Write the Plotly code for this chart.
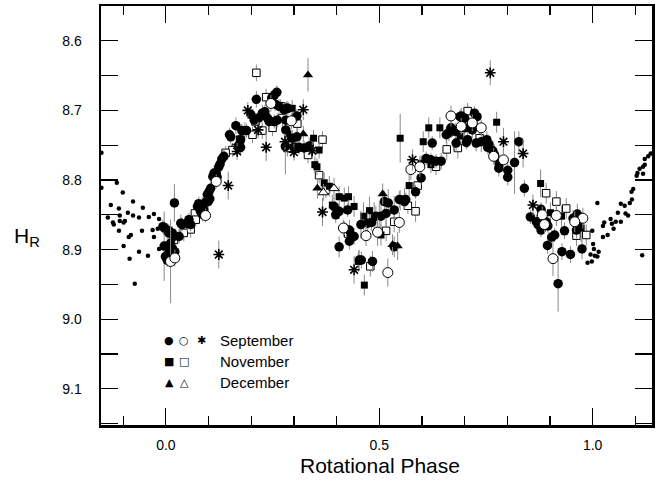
import plotly.graph_objects as go

# ---------------- data ----------------
# Small dots (phase-wrapped points outside 0..1)
dots_phase = [-0.151, -0.151, -0.115, -0.101, -0.077, -0.129, -0.136, -0.110, -0.089, -0.054,
              -0.108, -0.077, -0.063, -0.040, -0.028, -0.016, -0.124, -0.122, -0.108, -0.099,
              -0.096, -0.110, -0.056, -0.031, -0.028, -0.087, -0.082, -0.019, -0.099, -0.016,
              -0.085, -0.063, -0.042, -0.073,
              1.011, 0.999, 0.988, 0.988, 0.998, 0.995, 1.005, 1.011, 1.014, 1.003,
              1.001, 1.024, 1.027, 1.024, 1.035, 1.042, 1.045, 1.049, 1.054, 1.066,
              1.066, 1.075, 1.077, 1.059, 1.083, 1.087, 1.092, 1.091, 1.095, 1.103,
              1.105, 1.118, 1.110, 1.118, 1.122, 1.122, 1.130, 1.136, 1.116]
dots_h = [8.761, 8.811, 8.804, 8.818, 8.831, 8.836, 8.854, 8.841, 8.847, 8.840,
          8.851, 8.851, 8.854, 8.853, 8.849, 8.856, 8.861, 8.864, 8.859, 8.861,
          8.859, 8.873, 8.873, 8.872, 8.882, 8.882, 8.879, 8.870, 8.895, 8.899,
          8.913, 8.903, 8.909, 8.949,
          8.833, 8.873, 8.876, 8.919, 8.917, 8.907, 8.909, 8.910, 8.903, 8.899,
          8.892, 8.866, 8.861, 8.882, 8.879, 8.856, 8.863, 8.870, 8.860, 8.860,
          8.834, 8.837, 8.848, 8.847, 8.851, 8.833, 8.828, 8.817, 8.813, 8.794,
          8.790, 8.791, 8.784, 8.781, 8.778, 8.770, 8.766, 8.762, 8.908]

# September, filled circles
sep_fc_phase = [0.020, -0.007, -0.003, 0.007, 0.007, 0.011, 0.015, 0.021, 0.007, -0.001,
                0.009, 0.012, -0.004, 0.015, 0.003, 0.019, 0.031, 0.015, 0.035, 0.038,
                0.050, 0.054, 0.058, 0.077, 0.085, 0.074, 0.089, 0.081, 0.085, 0.093,
                0.099, 0.103, 0.097, 0.101, 0.105, 0.110, 0.113, 0.118, 0.120, 0.124,
                0.127, 0.131, 0.136, 0.149, 0.152, 0.164, 0.170, 0.175, 0.175, 0.178,
                0.189, 0.199, 0.207, 0.212, 0.217, 0.226, 0.232, 0.238, 0.242, 0.248,
                0.254, 0.254, 0.256, 0.260, 0.261, 0.265, 0.277, 0.283, 0.281, 0.286,
                0.307, 0.281, 0.281, 0.296, 0.307, 0.280, 0.300, 0.312, 0.324, 0.336,
                0.394, 0.398, 0.406, 0.426, 0.418, 0.430, 0.434, 0.430, 0.441, 0.406,
                0.453, 0.458, 0.484, 0.457, 0.473, 0.482, 0.492, 0.504, 0.516, 0.512,
                0.521, 0.535, 0.535, 0.547, 0.559, 0.562, 0.585, 0.598,
                0.624, 0.610, 0.621, 0.633, 0.645, 0.657, 0.668, 0.678, 0.692, 0.700,
                0.680, 0.663, 0.672, 0.689, 0.696, 0.700, 0.707, 0.704, 0.718, 0.723,
                0.729, 0.727, 0.739, 0.752, 0.757, 0.754, 0.766, 0.770, 0.782, 0.780,
                0.801, 0.801, 0.817, 0.827, 0.840,
                0.879, 0.854, 0.868, 0.872, 0.879, 0.891, 0.895, 0.887, 0.964, 0.954,
                0.962, 0.966, 0.911, 0.904, 0.934, 0.894, 0.928, 0.948, 0.975, 0.919]
sep_fc_h = [8.833, 8.867, 8.869, 8.873, 8.876, 8.891, 8.898, 8.903, 8.905, 8.910,
            8.893, 8.905, 8.895, 8.912, 8.915, 8.881, 8.881, 8.876, 8.862, 8.864,
            8.862, 8.857, 8.864, 8.834, 8.836, 8.838, 8.843, 8.845, 8.849, 8.832,
            8.831, 8.827, 8.821, 8.817, 8.812, 8.795, 8.790, 8.790, 8.796, 8.781,
            8.777, 8.770, 8.766, 8.735, 8.738, 8.722, 8.751, 8.742, 8.753, 8.729,
            8.729, 8.706, 8.714, 8.684, 8.711, 8.704, 8.702, 8.711, 8.716, 8.682,
            8.678, 8.716, 8.691, 8.674, 8.714, 8.694, 8.699, 8.697, 8.698, 8.697,
            8.708, 8.714, 8.728, 8.740, 8.738, 8.752, 8.753, 8.753, 8.754, 8.751,
            8.838, 8.850, 8.845, 8.843, 8.869, 8.872, 8.879, 8.888, 8.881, 8.896,
            8.915, 8.915, 8.917, 8.864, 8.862, 8.861, 8.852, 8.852, 8.848, 8.831,
            8.833, 8.843, 8.896, 8.828, 8.831, 8.828, 8.817, 8.797,
            8.747, 8.769, 8.771, 8.773, 8.773, 8.735, 8.725, 8.730, 8.708, 8.711,
            8.747, 8.732, 8.728, 8.709, 8.712, 8.725, 8.742, 8.746, 8.728, 8.704,
            8.709, 8.747, 8.745, 8.742, 8.749, 8.753, 8.758, 8.764, 8.776, 8.783,
            8.786, 8.796, 8.775, 8.745, 8.812,
            8.842, 8.853, 8.860, 8.864, 8.872, 8.860, 8.866, 8.862, 8.849, 8.855,
            8.872, 8.864, 8.879, 8.882, 8.873, 8.894, 8.903, 8.907, 8.899, 8.949]
sep_fc_err = [0.027, 0.010, 0.010, 0.010, 0.010, 0.015, 0.010, 0.010, 0.010, 0.012,
              0.010, 0.010, 0.050, 0.010, 0.010, 0.010, 0.010, 0.010, 0.012, 0.010,
              0.012, 0.010, 0.010, 0.010, 0.012, 0.010, 0.010, 0.010, 0.010, 0.010,
              0.010, 0.010, 0.010, 0.010, 0.010, 0.010, 0.010, 0.010, 0.010, 0.010,
              0.010, 0.010, 0.010, 0.010, 0.010, 0.012, 0.010, 0.010, 0.010, 0.010,
              0.010, 0.012, 0.010, 0.012, 0.010, 0.012, 0.010, 0.010, 0.012, 0.010,
              0.010, 0.010, 0.010, 0.010, 0.010, 0.010, 0.010, 0.010, 0.010, 0.010,
              0.010, 0.015, 0.015, 0.012, 0.012, 0.040, 0.010, 0.010, 0.010, 0.012,
              0.012, 0.012, 0.010, 0.010, 0.010, 0.015, 0.012, 0.012, 0.012, 0.015,
              0.015, 0.012, 0.015, 0.020, 0.015, 0.012, 0.015, 0.020, 0.020, 0.015,
              0.020, 0.020, 0.015, 0.012, 0.010, 0.010, 0.010, 0.010,
              0.010, 0.010, 0.010, 0.010, 0.012, 0.012, 0.015, 0.012, 0.012, 0.010,
              0.012, 0.012, 0.010, 0.010, 0.010, 0.012, 0.012, 0.010, 0.012, 0.010,
              0.010, 0.012, 0.015, 0.012, 0.012, 0.010, 0.015, 0.015, 0.012, 0.012,
              0.012, 0.012, 0.045, 0.015, 0.012,
              0.010, 0.010, 0.010, 0.010, 0.010, 0.012, 0.010, 0.010, 0.015, 0.012,
              0.012, 0.012, 0.010, 0.010, 0.012, 0.012, 0.012, 0.012, 0.015, 0.040]

# September, open circles
sep_oc_phase = [0.011, 0.021, 0.246, 0.118, 0.093, 0.294, 0.416, 0.469, 0.496, 0.520,
                0.547, 0.574, 0.595, 0.668, 0.692, 0.718, 0.739, 0.768, 0.791, 0.882,
                0.915, 0.977, 0.958, 0.907, 0.887]
sep_oc_h = [8.917, 8.912, 8.690, 8.802, 8.851, 8.715, 8.869, 8.880, 8.875, 8.933,
            8.861, 8.785, 8.781, 8.708, 8.723, 8.718, 8.725, 8.766, 8.771, 8.850,
            8.851, 8.855, 8.860, 8.913, 8.864]
sep_oc_err = [0.060, 0.012, 0.012, 0.010, 0.010, 0.012, 0.012, 0.015, 0.020, 0.020,
              0.015, 0.015, 0.015, 0.015, 0.012, 0.012, 0.012, 0.012, 0.012, 0.012,
              0.015, 0.015, 0.015, 0.025, 0.012]

# September, asterisks
sep_as_phase = [0.124, 0.146, 0.167, 0.192, 0.216, 0.235, 0.279, 0.300, 0.322, 0.343,
                0.367, 0.441, 0.578, 0.760, 0.791, 0.837, 0.860]
sep_as_h = [8.907, 8.808, 8.759, 8.700, 8.728, 8.753, 8.745, 8.760, 8.699, 8.758,
            8.846, 8.929, 8.771, 8.646, 8.745, 8.762, 8.836]
sep_as_err = [0.020, 0.020, 0.012, 0.012, 0.012, 0.020, 0.012, 0.012, 0.015, 0.012,
              0.020, 0.020, 0.015, 0.018, 0.020, 0.020, 0.015]

# November, filled squares
nov_fs_phase = [0.296, 0.286, 0.346, 0.359, 0.349, 0.354, 0.371, 0.383, 0.390, 0.406,
                0.418, 0.428, 0.441, 0.463, 0.477, 0.488, 0.500, 0.504, 0.451, 0.465,
                0.549, 0.549, 0.559, 0.570, 0.603, 0.616, 0.642, 0.598, 0.621, 0.689,
                0.775, 0.878, 0.901, 0.927, 0.973, 0.003]
nov_fs_h = [8.697, 8.734, 8.740, 8.757, 8.778, 8.781, 8.804, 8.809, 8.836, 8.824,
            8.826, 8.824, 8.838, 8.852, 8.844, 8.852, 8.851, 8.879, 8.917, 8.951,
            8.740, 8.829, 8.827, 8.808, 8.745, 8.725, 8.725, 8.776, 8.778, 8.737,
            8.717, 8.805, 8.847, 8.852, 8.869, 8.874]
nov_fs_err = [0.012, 0.012, 0.012, 0.012, 0.012, 0.012, 0.015, 0.015, 0.015, 0.015,
              0.015, 0.015, 0.015, 0.020, 0.020, 0.020, 0.020, 0.015, 0.015, 0.015,
              0.035, 0.015, 0.015, 0.015, 0.015, 0.015, 0.015, 0.012, 0.012, 0.012,
              0.015, 0.020, 0.015, 0.015, 0.020, 0.012]

# November, open squares
nov_os_phase = [0.212, 0.235, 0.269, 0.273, 0.210, 0.250, 0.226, 0.203, 0.185, 0.174,
                0.164, 0.156, 0.140, 0.068, 0.070, 0.058, 0.042, 0.019, 0.308, 0.367,
                0.296, 0.285, 0.333, 0.359, 0.375, 0.427, 0.516, 0.479, 0.535, 0.567,
                0.585, 0.590, 0.633, 0.658, 0.684, 0.707, 0.735, 0.891, 0.915, 0.938,
                0.962, 0.985]
nov_os_h = [8.646, 8.681, 8.694, 8.711, 8.716, 8.725, 8.729, 8.735, 8.729, 8.742,
            8.754, 8.757, 8.761, 8.848, 8.857, 8.871, 8.876, 8.886, 8.719, 8.742,
            8.745, 8.754, 8.764, 8.793, 8.814, 8.877, 8.873, 8.924, 8.860, 8.837,
            8.845, 8.808, 8.781, 8.756, 8.754, 8.701, 8.740, 8.819, 8.831, 8.841,
            8.880, 8.879]
nov_os_err = [0.012, 0.012, 0.010, 0.012, 0.012, 0.012, 0.012, 0.012, 0.012, 0.010,
              0.010, 0.010, 0.010, 0.010, 0.010, 0.012, 0.012, 0.010, 0.012, 0.012,
              0.012, 0.012, 0.012, 0.012, 0.012, 0.012, 0.015, 0.015, 0.015, 0.012,
              0.015, 0.015, 0.012, 0.015, 0.015, 0.012, 0.012, 0.015, 0.015, 0.015,
              0.015, 0.015]

# December, filled triangles
dec_ft_phase = [0.333, 0.322, 0.355, 0.508, 0.531, 0.543]
dec_ft_h = [8.649, 8.734, 8.812, 8.820, 8.893, 8.895]
dec_ft_err = [0.024, 0.012, 0.015, 0.015, 0.015, 0.020]

# December, open triangles
dec_ot_phase = [0.369, 0.394]
dec_ot_h = [8.818, 8.812]
dec_ot_err = [0.012, 0.015]

x_tick_vals = [0.0, 0.5, 1.0]
x_tick_text = ["0.0", "0.5", "1.0"]
y_tick_vals = [8.6, 8.7, 8.8, 8.9, 9.0, 9.1]
y_tick_text = ["8.6", "8.7", "8.8", "8.9", "9.0", "9.1"]

legend_rows = [("September", ["●", "○", "✱"]),
               ("November", ["■", "□"]),
               ("December", ["▲", "△"])]

# ---------------- figure ----------------
FONT = "Liberation Sans, Arial, Helvetica, sans-serif"
ERR_COLOR = "#8a8a8a"

fig = go.Figure()


def err(vals):
    return dict(type="data", array=vals, visible=True, color=ERR_COLOR,
                thickness=1, width=0)


fig.add_trace(go.Scatter(x=dots_phase, y=dots_h, mode="markers",
                         marker=dict(symbol="circle", size=4.5, color="black"),
                         hoverinfo="skip"))
fig.add_trace(go.Scatter(x=nov_os_phase, y=nov_os_h, mode="markers", error_y=err(nov_os_err),
                         marker=dict(symbol="square", size=7.5, color="white",
                                     line=dict(color="black", width=1))))
fig.add_trace(go.Scatter(x=nov_fs_phase, y=nov_fs_h, mode="markers", error_y=err(nov_fs_err),
                         marker=dict(symbol="square", size=7, color="black")))
fig.add_trace(go.Scatter(x=sep_fc_phase, y=sep_fc_h, mode="markers", error_y=err(sep_fc_err),
                         marker=dict(symbol="circle", size=9.5, color="black")))
fig.add_trace(go.Scatter(x=sep_oc_phase, y=sep_oc_h, mode="markers", error_y=err(sep_oc_err),
                         marker=dict(symbol="circle", size=10, color="white",
                                     line=dict(color="black", width=1))))
fig.add_trace(go.Scatter(x=dec_ot_phase, y=dec_ot_h, mode="markers", error_y=err(dec_ot_err),
                         marker=dict(symbol="triangle-up", size=9, color="white",
                                     line=dict(color="black", width=1))))
fig.add_trace(go.Scatter(x=dec_ft_phase, y=dec_ft_h, mode="markers", error_y=err(dec_ft_err),
                         marker=dict(symbol="triangle-up", size=9, color="black")))
fig.add_trace(go.Scatter(x=sep_as_phase, y=sep_as_h, mode="markers", error_y=err(sep_as_err),
                         marker=dict(symbol="asterisk", size=9, color="black",
                                     line=dict(color="black", width=1.6))))

L, R, T, B = 101, 6, 6, 64
W, H = 658, 489
pw, ph = W - L - R, H - T - B


def px(xp):
    return (xp - L) / pw


def py(yp):
    return (H - B - yp) / ph


annotations = []
row_y = [340, 361, 382]
sym_x = [169, 184, 201]
for (label, syms), yy in zip(legend_rows, row_y):
    for s, xx in zip(syms, sym_x):
        annotations.append(dict(x=px(xx), y=py(yy), xref="paper", yref="paper",
                                text=s, showarrow=False, xanchor="center", yanchor="middle",
                                font=dict(family="DejaVu Sans", size=11, color="black")))
    annotations.append(dict(x=px(218), y=py(yy), xref="paper", yref="paper",
                            text=label, showarrow=False, xanchor="left", yanchor="middle",
                            font=dict(family=FONT, size=15, color="black")))

annotations.append(dict(x=px(27), y=py(237), xref="paper", yref="paper",
                        text="H<sub>R</sub>", showarrow=False, xanchor="center",
                        yanchor="middle", font=dict(family=FONT, size=21, color="black")))
annotations.append(dict(x=px(380), y=py(465), xref="paper", yref="paper",
                        text="Rotational Phase", showarrow=False, xanchor="center",
                        yanchor="middle", font=dict(family=FONT, size=21, color="black")))

fig.update_layout(
    width=W, height=H,
    margin=dict(l=L, r=R, t=T, b=B, autoexpand=False),
    paper_bgcolor="white", plot_bgcolor="white",
    showlegend=False,
    annotations=annotations,
    font=dict(family=FONT, color="black"),
)

fig.update_xaxes(
    range=[-0.152, 1.139], automargin=False,
    tickvals=x_tick_vals, ticktext=x_tick_text,
    ticks="inside", ticklen=17, tickwidth=1.2, tickcolor="black",
    minor=dict(dtick=0.1, tick0=0, ticks="inside", ticklen=9, tickwidth=1.2, tickcolor="black"),
    showline=True, linewidth=2.5, linecolor="black", mirror="ticks",
    showgrid=False, zeroline=False,
    tickfont=dict(family=FONT, size=14, color="black"),
    ticklabelstandoff=6,
)
fig.update_yaxes(
    range=[9.152, 8.55], automargin=False,
    tickvals=y_tick_vals, ticktext=y_tick_text,
    ticks="inside", ticklen=17, tickwidth=1.2, tickcolor="black",
    minor=dict(dtick=0.05, tick0=8.6, ticks="inside", ticklen=17, tickwidth=1.2, tickcolor="black"),
    showline=True, linewidth=2.5, linecolor="black", mirror="ticks",
    showgrid=False, zeroline=False,
    tickfont=dict(family=FONT, size=14, color="black"),
    ticklabelstandoff=14,
)

fig.write_html("out.html",
               config={"displayModeBar": False, "staticPlot": True},
               post_script="document.body.style.margin='0';document.body.style.padding='0';")
